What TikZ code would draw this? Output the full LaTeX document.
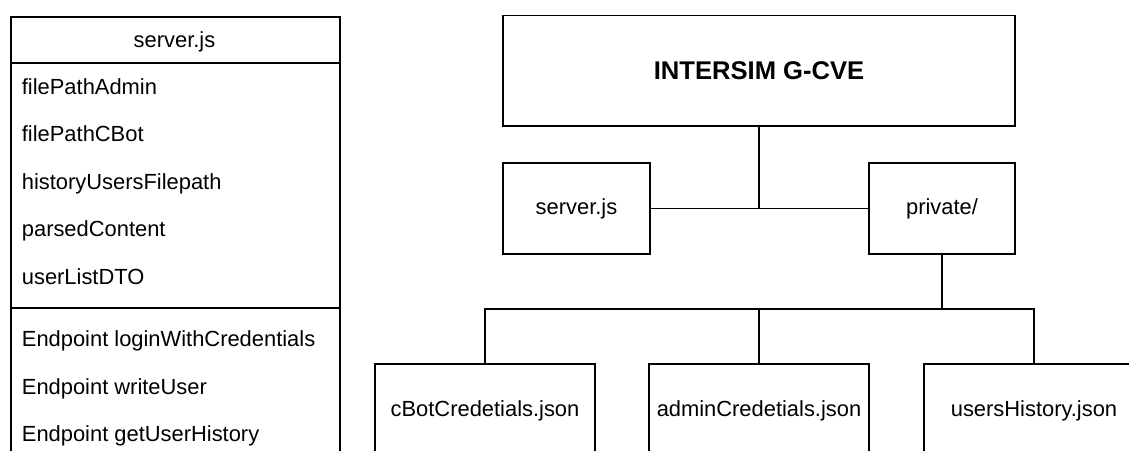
\documentclass[tikz,border=0pt]{standalone}
\usepackage{fontspec}
\setmainfont{Liberation Sans}
\begin{document}
\begin{tikzpicture}[x=1pt,y=-1pt,
  line width=1.8pt,
  txt/.style={font=\fontsize{21.9}{26}\selectfont, inner sep=0pt},
  member/.style={txt, anchor=base west},
  box/.style={draw, rectangle, inner sep=0pt, txt},
  link/.style={draw, line width=1.8pt}]
\useasboundingbox (0,0) rectangle (1129,450);
\clip (0,0) rectangle (1129,450);

% class box for server.js
\node[draw, rectangle, inner sep=0pt, anchor=north west,
      minimum width=329pt, minimum height=444pt] (cls) at (10,16) {};
\draw (10,63) -- (339,63);
\draw (10,308) -- (339,308);
\node[txt, anchor=base] (clshead) at (174.5,47) {server.js};
\node[member] (m1) at (21,94.4) {filePathAdmin};
\node[member] (m2) at (21,141.9) {filePathCBot};
\node[member] (m3) at (21,189.4) {historyUsersFilepath};
\node[member] (m4) at (21,236.9) {parsedContent};
\node[member] (m5) at (21,284.4) {userListDTO};
\node[member] (e1) at (21,346.5) {Endpoint loginWithCredentials};
\node[member] (e2) at (21,394) {Endpoint writeUser};
\node[member] (e3) at (21,441.5) {Endpoint getUserHistory};

% project tree
\node[box, minimum width=512pt, minimum height=110.5pt,
      font=\fontsize{25.6}{30}\selectfont\bfseries] (root) at (759,70.8) {INTERSIM G-CVE};
\node[box, minimum width=147pt, minimum height=91.6pt] (srv) at (576.5,208.5) {server.js};
\node[box, minimum width=146pt, minimum height=91.6pt] (priv) at (942,208.5) {private/};

\node[box, minimum width=220pt, minimum height=94pt] (cbot) at (485,411) {cBotCredetials.json};
\node[box, minimum width=220pt, minimum height=94pt] (admin) at (759,411) {adminCredetials.json};
\node[box, minimum width=220pt, minimum height=94pt] (users) at (1034,411) {usersHistory.json};

\draw[link] (root.south) |- (srv.east);
\draw[link] (root.south) |- (priv.west);

\coordinate (bus) at (942,309);
\draw[link] (priv.south) -- (bus);
\draw[link] (bus) -| (cbot.north);
\draw[link] (bus) -| (admin.north);
\draw[link] (bus) -| (users.north);
\end{tikzpicture}
\end{document}
